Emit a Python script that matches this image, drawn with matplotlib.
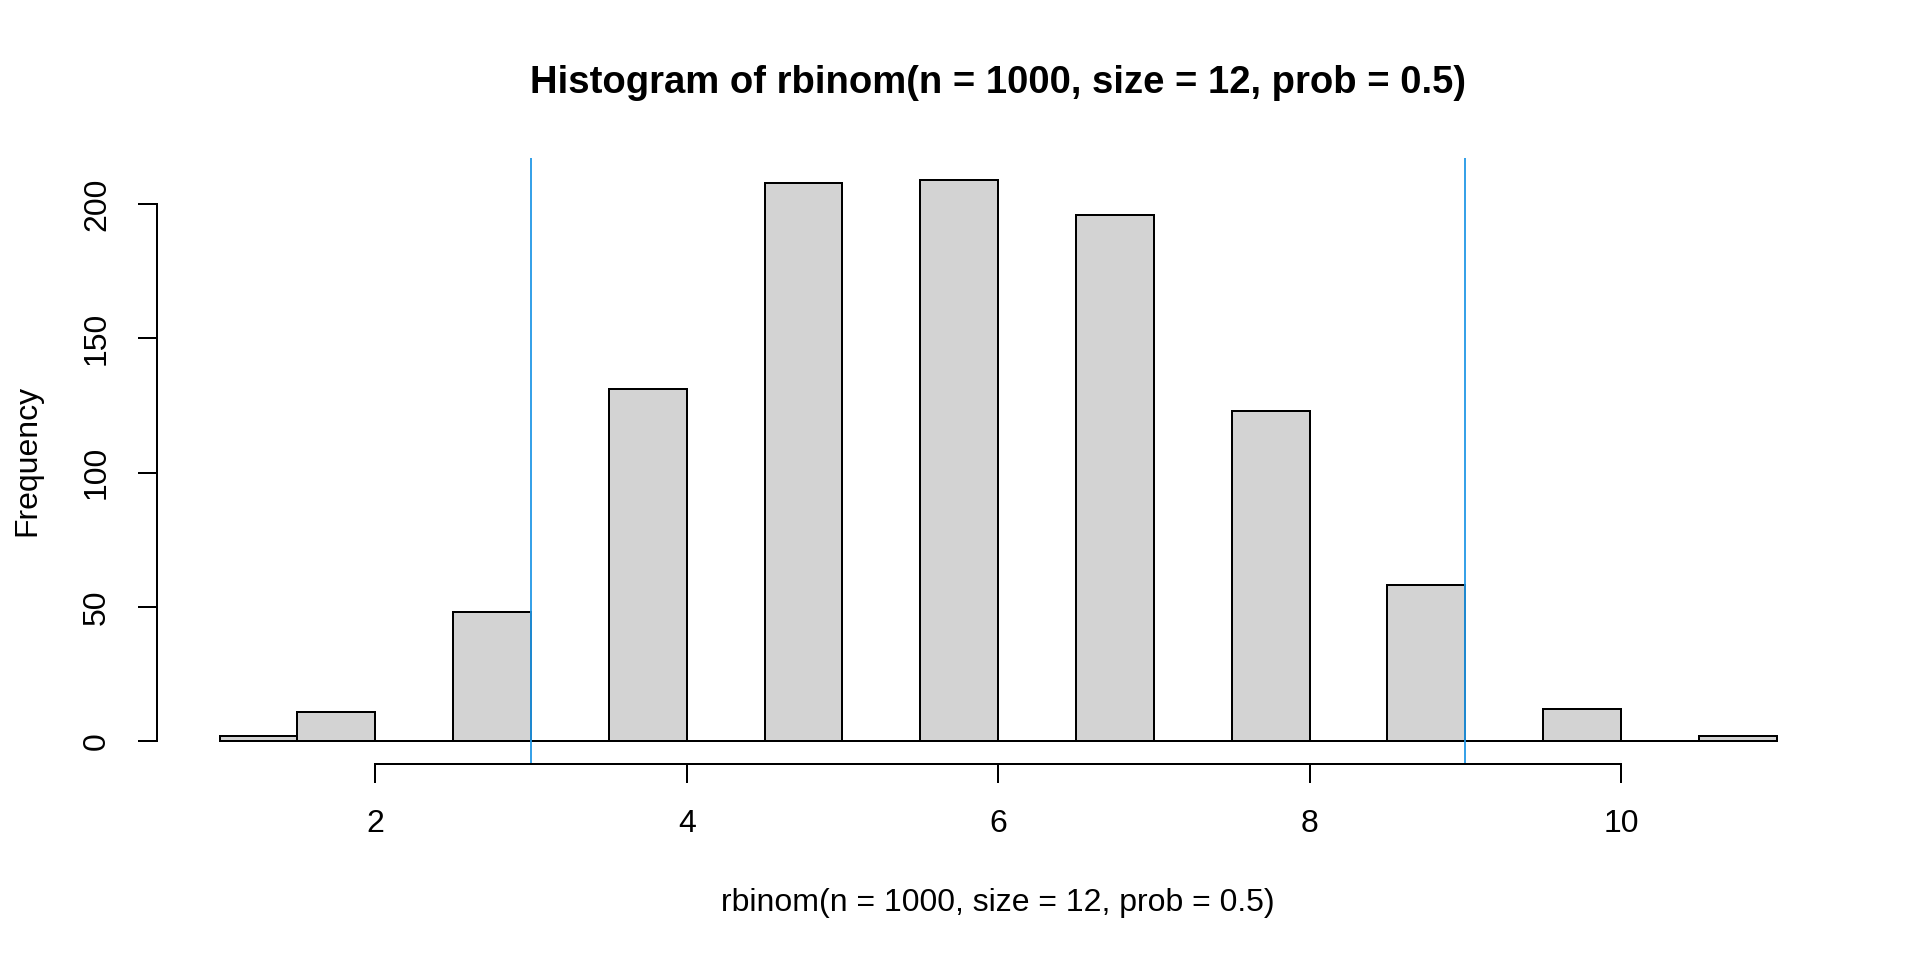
import numpy as np
import matplotlib
matplotlib.use('Agg')
import matplotlib.pyplot as plt

# Histogram bins (width 0.5 from 1 to 11) and counts
bin_edges = np.arange(1, 11.5, 0.5)
counts = [2, 11, 0, 48, 0, 131, 0, 208, 0, 209, 0, 196, 0, 123, 0, 58, 0, 12, 0, 2]
vlines_x = [3, 9]
x_ticks = [2, 4, 6, 8, 10]
y_ticks = [0, 50, 100, 150, 200]

title = 'Histogram of rbinom(n = 1000, size = 12, prob = 0.5)'
x_label = 'rbinom(n = 1000, size = 12, prob = 0.5)'
y_label = 'Frequency'

plt.rcParams['font.family'] = ['Liberation Sans', 'DejaVu Sans']

W, H = 1920, 960
fig = plt.figure(figsize=(W / 100, H / 100), dpi=100)

# Plot region in pixels (R style, 4% axis extension)
left, right, top, bottom = 157.3, 1839, 157.5, 763.5
ax = fig.add_axes([left / W, 1 - bottom / H, (right - left) / W, (bottom - top) / H])

lw = 1.44
ax.bar(bin_edges[:-1], counts, width=0.5, align='edge',
       color='#D3D3D3', edgecolor='black', linewidth=lw)

for xv in vlines_x:
    ax.axvline(xv, color='#2297E6', linewidth=1.3)

ax.set_xlim(0.6, 11.4)
ax.set_ylim(-8.36, 217.36)

for s in ['top', 'right']:
    ax.spines[s].set_visible(False)
ax.spines['left'].set_bounds(0, 200)
ax.spines['bottom'].set_bounds(2, 10)
ax.spines['left'].set_linewidth(lw)
ax.spines['bottom'].set_linewidth(lw)

ax.set_xticks(x_ticks)
ax.set_yticks(y_ticks)
ax.tick_params(axis='both', direction='out', length=13.7, width=lw,
               labelsize=23, pad=19)
for lab in ax.get_yticklabels():
    lab.set_rotation(90)
    lab.set_va('center')

cx = (left + right) / 2 / W
fig.text(cx, 1 - 93 / H, title, ha='center', va='baseline',
         fontsize=27.5, fontweight='bold')
fig.text(cx, 1 - 911 / H, x_label, ha='center', va='baseline', fontsize=23)
fig.text(35 / W, 1 - (top + bottom) / 2 / H, y_label, rotation=90,
         rotation_mode='anchor', ha='center', va='baseline', fontsize=23)

fig.savefig('out.png', dpi=100)
